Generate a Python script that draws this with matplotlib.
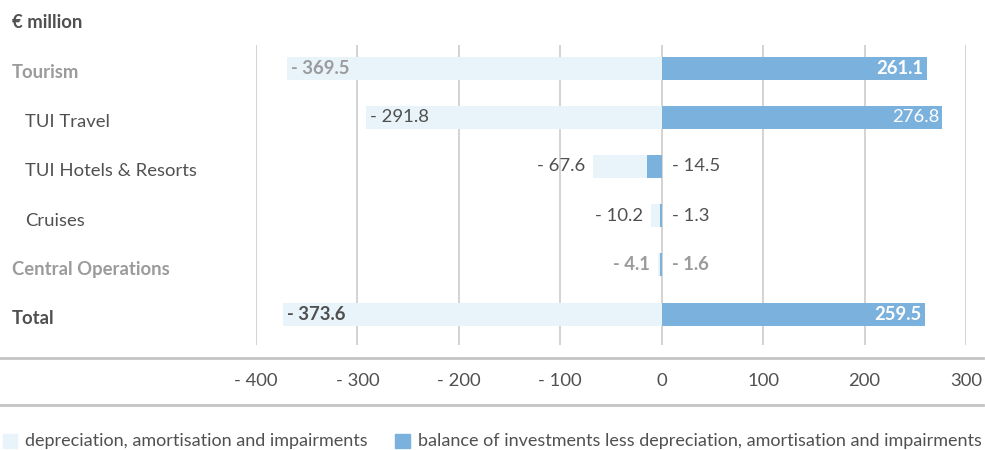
import matplotlib
matplotlib.use("Agg")
import matplotlib.pyplot as plt
from matplotlib.patches import Rectangle
from matplotlib.lines import Line2D

# ── Data ─────────────────────────────────────────────
categories = ["Tourism", "TUI Travel", "TUI Hotels & Resorts", "Cruises",
              "Central Operations", "Total"]
depreciation = [-369.5, -291.8, -67.6, -10.2, -4.1, -373.6]
balance = [261.1, 276.8, -14.5, -1.3, -1.6, 259.5]
xticks = [-400, -300, -200, -100, 0, 100, 200, 300]
# styling per row
row_style = ["group", "sub", "sub", "sub", "group", "total"]

W, H = 985, 450
LIGHT = "#e8f3fa"
DARK = "#7ab1dd"
TXT = "#505050"
GREY = "#9b9b9b"
GRID = "#c8c8c8"
FONT = "Lato"
FS = 13.3
FS_LEG = 12.95
NORMAL = "normal"

plt.rcParams['font.family'] = [FONT, 'DejaVu Sans']


def fx(px):
    return px / W


def fy(py):
    return 1 - py / H


def fmt(v):
    if v < 0:
        return "- " + f"{abs(v):.1f}"
    return f"{v:.1f}"


def fmt_tick(v):
    if v < 0:
        return "- " + f"{abs(v):g}"
    return f"{v:g}"


fig = plt.figure(figsize=(W / 100, H / 100), dpi=100)

ax_left, ax_right, ax_top, ax_bot = 256, 966, 45, 345
ax = fig.add_axes([fx(ax_left), fy(ax_bot), fx(ax_right - ax_left),
                   (ax_bot - ax_top) / H])
ax.set_xlim(-400, 300)
step = 49.2
ax.set_ylim((ax_bot - 68) / step, -(68 - ax_top) / step)
for s in ax.spines.values():
    s.set_visible(False)
ax.set_xticks([])
ax.set_yticks([])
for t in xticks:
    ax.axvline(t, color=GRID, lw=1.1, zorder=0)

bh = 23 / step
px_per_unit = (ax_right - ax_left) / 700.0

for i, (cat, d, b, st) in enumerate(zip(categories, depreciation, balance, row_style)):
    ax.barh(i, d, height=bh, color=LIGHT, zorder=1)
    ax.barh(i, b, height=bh, color=DARK, zorder=2)

    if st == "group":
        col, weight = GREY, "bold"
    elif st == "total":
        col, weight = TXT, "bold"
    else:
        col, weight = TXT, NORMAL

    # depreciation label
    width_px = abs(d) * px_per_unit
    if width_px > 80:
        ax.text(d + 4 / px_per_unit, i, fmt(d), ha="left", va="center",
                fontsize=FS, color=col, fontweight=weight, zorder=3)
    else:
        ax.text(d - 8 / px_per_unit, i, fmt(d), ha="right", va="center",
                fontsize=FS, color=col, fontweight=weight, zorder=3)

    # balance label
    if b > 0:
        ax.text(b - 3 / px_per_unit, i, fmt(b), ha="right", va="center",
                fontsize=FS, color="white", fontweight=weight, zorder=3)
    else:
        ax.text(10 / px_per_unit, i, fmt(b), ha="left", va="center",
                fontsize=FS, color=col, fontweight=weight, zorder=3)

    # category label
    ypix = 68 + i * step + 5
    xpix = 25 if st == "sub" else 12
    fig.text(fx(xpix), fy(ypix), cat, ha="left", va="center", fontsize=FS,
             color=col, fontweight=weight)

# header
fig.text(fx(12), fy(23), "€ million", ha="left", va="center", fontsize=FS,
         color=TXT, fontweight="bold")

# x-axis band
for ypix in (358, 405):
    fig.add_artist(Line2D([fx(0), fx(983)], [fy(ypix), fy(ypix)],
                          color="#c4c4c4", lw=2))
for t in xticks:
    xpix = ax_left + (t + 400) * px_per_unit
    fig.text(fx(xpix), fy(381), fmt_tick(t), ha="center", va="center",
             fontsize=FS, color=TXT, fontweight=NORMAL)

# legend
fig.add_artist(Rectangle((fx(3), fy(448)), fx(14), 14 / H, color=LIGHT))
fig.text(fx(25), fy(441), "depreciation, amortisation and impairments",
         ha="left", va="center", fontsize=FS_LEG, color=TXT, fontweight=NORMAL)
fig.add_artist(Rectangle((fx(395), fy(448)), fx(15), 14 / H, color=DARK))
fig.text(fx(418), fy(441),
         "balance of investments less depreciation, amortisation and impairments",
         ha="left", va="center", fontsize=FS_LEG, color=TXT, fontweight=NORMAL)

fig.savefig("out.png", dpi=100)
